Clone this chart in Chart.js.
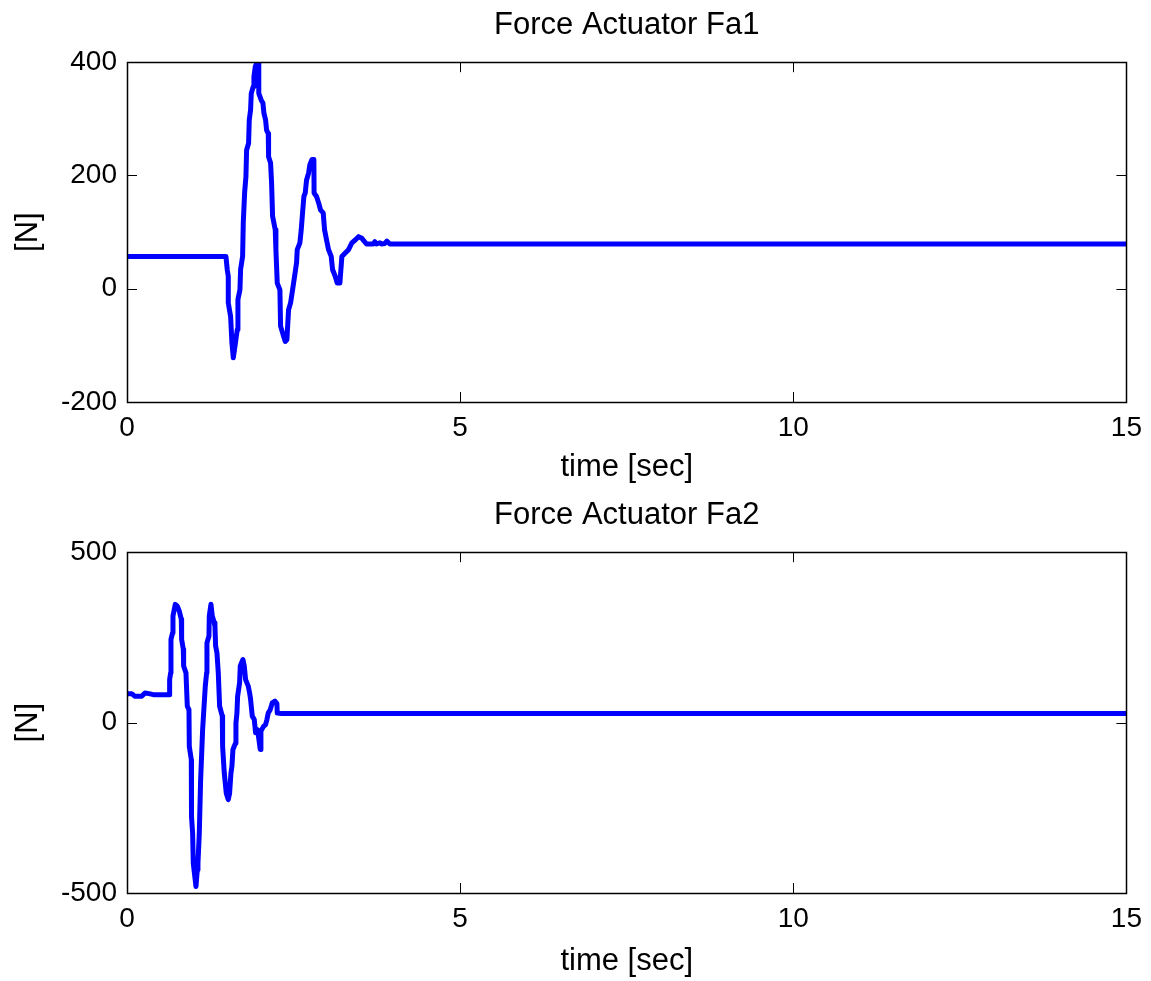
<!DOCTYPE html>
<html>
<head>
<meta charset="utf-8">
<script src="https://cdn.jsdelivr.net/npm/chart.js@4/dist/chart.umd.min.js"></script>
<style>
  html, body { margin: 0; padding: 0; background: #fff; }
  #wrap { position: relative; width: 1151px; height: 981px; background: #fff; }
  canvas { position: absolute; left: 0; }
  #c1 { top: 0; }
  #c2 { top: 490px; }
</style>
</head>
<body>
<div id="wrap">
  <canvas id="c1" width="1151" height="490"></canvas>
  <canvas id="c2" width="1151" height="491"></canvas>
</div>
<script>
// ---- Data ----
const titles = ["Force Actuator Fa1", "Force Actuator Fa2"];
const xLabel = "time [sec]";
const yLabel = "[N]";
const xTicks = [0, 5, 10, 15];
const yTicks1 = [-200, 0, 200, 400];
const yTicks2 = [-500, 0, 500];

// Fa1: time [s] and force [N]
const t1 = [0, 1.485, 1.505, 1.52, 1.52, 1.555, 1.575, 1.595, 1.62, 1.655, 1.665, 1.695, 1.705, 1.735, 1.745,
  1.765, 1.785, 1.795, 1.825, 1.835, 1.855, 1.865, 1.895, 1.905, 1.925, 1.945, 1.975, 1.978, 2.015, 2.04,
  2.055, 2.08, 2.095, 2.12, 2.125, 2.155, 2.17, 2.185, 2.225, 2.235, 2.255, 2.295, 2.305, 2.335, 2.375,
  2.40, 2.425, 2.455, 2.485, 2.515, 2.545, 2.555, 2.595, 2.615, 2.635, 2.655, 2.675, 2.695, 2.725, 2.745,
  2.775, 2.805, 2.808, 2.845, 2.875, 2.905, 2.945, 2.965, 2.995, 3.025, 3.065, 3.085, 3.125, 3.155, 3.195,
  3.225, 3.275, 3.325, 3.375, 3.425, 3.475, 3.525, 3.595, 3.695, 3.72, 3.745, 3.795, 3.82, 3.87, 3.90,
  3.945, 15];
const f1 = [57, 57, 33, 22, -25, -49, -96, -122, -102, -72, -19, -2, 34, 57, 116,
  169, 198, 245, 257, 298, 316, 345, 357, 374, 392, 398, 398, 345, 333, 328,
  310, 298, 280, 274, 233, 222, 187, 128, 104, 69, 10, -2, -66, -78, -93,
  -90, -37, -25, -2, 22, 46, 69, 81, 104, 134, 163, 169, 192, 204, 219,
  228, 228, 169, 163, 152, 139, 134, 104, 86, 69, 57, 34, 22, 10, 10,
  57, 63, 69, 81, 86, 92, 89, 79, 79, 83, 79, 81, 79, 80, 84,
  79, 79];

// Fa2: time [s] and force [N]
const t2 = [0, 0.07, 0.12, 0.22, 0.27, 0.33, 0.395, 0.635, 0.64, 0.655, 0.66, 0.685, 0.69, 0.725, 0.755,
  0.785, 0.815, 0.82, 0.845, 0.85, 0.885, 0.905, 0.93, 0.935, 0.965, 0.968, 0.985, 0.995, 1.035, 1.055,
  1.065, 1.085, 1.105, 1.135, 1.175, 1.195, 1.20, 1.23, 1.235, 1.26, 1.28, 1.31, 1.32, 1.33, 1.35,
  1.37, 1.39, 1.43, 1.435, 1.46, 1.49, 1.52, 1.54, 1.56, 1.575, 1.59, 1.63, 1.635, 1.65, 1.66,
  1.69, 1.70, 1.74, 1.76, 1.78, 1.82, 1.84, 1.855, 1.88, 1.91, 1.93, 1.96, 1.98, 2.0, 2.01,
  2.05, 2.08, 2.10, 2.12, 2.15, 2.18, 2.22, 2.25, 2.255, 2.32, 15];
const f2 = [85, 85, 77, 77, 87, 85, 82, 82, 126, 146, 244, 264, 313, 347, 342,
  327, 303, 244, 215, 166, 146, 48, 38, -70, -109, -275, -325, -413, -481, -432,
  -413, -325, -168, -21, 107, 146, 234, 254, 313, 347, 313, 293, 283, 225, 205,
  146, 48, 19, -70, -148, -207, -226, -207, -148, -128, -79, -60, -1, 28, 77,
  117, 166, 185, 166, 126, 107, 87, 68, 19, 9, -30, -21, -50, -79, -25,
  -11, -6, 9, 28, 38, 58, 63, 56, 28, 27, 27];

// ---- Helpers ----
const FONT = "'Liberation Sans', Arial, Helvetica, sans-serif";
const FS_TICK = 28;
const FS_TITLE = 31;

function pairs(xs, ys) { return xs.map((x, i) => ({ x: x, y: ys[i] })); }

// center the chart title over the plot area (as in the reference)
const centerTitlePlugin = {
  id: 'centerTitle',
  afterLayout(chart) {
    const tb = chart.titleBlock;
    if (!tb) return;
    tb.left = chart.chartArea.left;
    tb.right = chart.chartArea.right;
    tb.width = tb.right - tb.left;
  }
};

const boxTicksPlugin = {
  id: 'boxTicks',
  afterDatasetsDraw(chart) {
    const { ctx, chartArea: a, scales } = chart;
    const L = 10;
    ctx.save();
    ctx.strokeStyle = '#000';
    ctx.lineWidth = 1;
    ctx.beginPath();
    scales.x.ticks.forEach(t => {
      const px = Math.round(scales.x.getPixelForValue(t.value)) + 0.5;
      ctx.moveTo(px, a.bottom); ctx.lineTo(px, a.bottom - L);
      ctx.moveTo(px, a.top); ctx.lineTo(px, a.top + L);
    });
    scales.y.ticks.forEach(t => {
      const py = Math.round(scales.y.getPixelForValue(t.value)) + 0.5;
      ctx.moveTo(a.left, py); ctx.lineTo(a.left + L, py);
      ctx.moveTo(a.right, py); ctx.lineTo(a.right - L, py);
    });
    ctx.stroke();
    ctx.lineWidth = 1.5;
    ctx.strokeRect(Math.round(a.left) + 0.5, Math.round(a.top) + 0.5,
      Math.round(a.right - a.left), Math.round(a.bottom - a.top));
    ctx.restore();
  }
};

function makeChart(id, title, xs, ys, yTicks, xTitlePad) {
  const yMin = yTicks[0], yMax = yTicks[yTicks.length - 1];
  const yStep = yTicks[1] - yTicks[0];
  return new Chart(document.getElementById(id), {
    type: 'line',
    data: {
      datasets: [{
        data: pairs(xs, ys),
        borderColor: '#0000FF',
        borderWidth: 5,
        pointRadius: 0,
        tension: 0,
        fill: false,
        borderJoinStyle: 'round',
        borderCapStyle: 'round'
      }]
    },
    options: {
      responsive: false,
      devicePixelRatio: 1,
      animation: false,
      layout: { padding: { left: 0, right: 23, top: 0, bottom: 0 } },
      plugins: {
        legend: { display: false },
        tooltip: { enabled: false },
        title: {
          display: true,
          text: title,
          color: '#000',
          font: { family: FONT, size: FS_TITLE, weight: 'normal' },
          padding: { top: 7, bottom: 18 }
        }
      },
      scales: {
        x: {
          type: 'linear',
          min: xTicks[0], max: xTicks[xTicks.length - 1],
          afterBuildTicks: s => { s.ticks = xTicks.map(v => ({ value: v })); },
          afterFit: s => { s.height = 88; },
          grid: { display: false, drawTicks: false },
          border: { display: false },
          ticks: { color: '#000', padding: 9, font: { family: FONT, size: FS_TICK }, maxRotation: 0 },
          title: {
            display: true, text: xLabel, color: '#000',
            font: { family: FONT, size: FS_TITLE },
            padding: { top: xTitlePad, bottom: xTitlePad }
          }
        },
        y: {
          type: 'linear',
          min: yMin, max: yMax,
          afterBuildTicks: s => { s.ticks = yTicks.map(v => ({ value: v })); },
          afterFit: s => { s.width = 127; },
          grid: { display: false, drawTicks: false },
          border: { display: false },
          ticks: { color: '#000', padding: 10, font: { family: FONT, size: FS_TICK }, stepSize: yStep },
          title: {
            display: true, text: yLabel, color: '#000',
            font: { family: FONT, size: FS_TITLE },
            padding: { top: 10, bottom: 10 }
          }
        }
      }
    },
    plugins: [centerTitlePlugin, boxTicksPlugin]
  });
}

makeChart('c1', titles[0], t1, f1, yTicks1, 4);
makeChart('c2', titles[1], t2, f2, yTicks2, 1);
</script>
</body>
</html>
